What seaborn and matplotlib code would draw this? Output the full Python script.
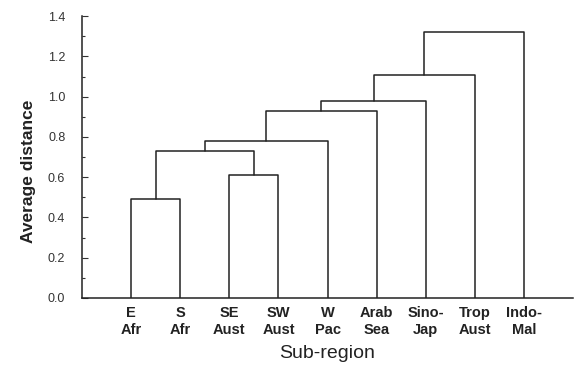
import numpy as np
import pandas as pd
import matplotlib
matplotlib.use("Agg")
import matplotlib.pyplot as plt
import matplotlib.ticker as mticker
import seaborn as sns

# leaf labels (left to right) and the agglomeration steps
leaves = ["E\nAfr", "S\nAfr", "SE\nAust", "SW\nAust", "W\nPac",
          "Arab\nSea", "Sino-\nJap", "Trop\nAust", "Indo-\nMal"]
# children indices: 0-8 are leaves, 9+ are clusters created in order below
merge_left = [0, 2, 9, 11, 12, 13, 14, 15]
merge_right = [1, 3, 10, 4, 5, 6, 7, 8]
merge_height = [0.49, 0.61, 0.73, 0.78, 0.93, 0.98, 1.11, 1.32]

# build the U-shaped link segments
pos_x = {i: i + 1.0 for i in range(len(leaves))}
pos_y = {i: 0.0 for i in range(len(leaves))}
rows = []
for k, (a, b, h) in enumerate(zip(merge_left, merge_right, merge_height)):
    xs = [pos_x[a], pos_x[a], pos_x[b], pos_x[b]]
    ys = [pos_y[a], h, h, pos_y[b]]
    for order, (x, y) in enumerate(zip(xs, ys)):
        rows.append({"link": k, "order": order, "x": x, "y": y})
    new = len(leaves) + k
    pos_x[new] = (pos_x[a] + pos_x[b]) / 2
    pos_y[new] = h
links = pd.DataFrame(rows)

sns.set_style("ticks")
plt.rcParams["font.family"] = ["Liberation Sans", "DejaVu Sans"]

fig = plt.figure(figsize=(5.75, 3.66), dpi=100)
ax = fig.add_axes([0.1426, 0.1858, 0.854, 0.770])

sns.lineplot(data=links, x="x", y="y", units="link", estimator=None,
             sort=False, color="#222222", linewidth=1.1, ax=ax, legend=False)

ax.set_xlim(0, 10)
ax.set_ylim(0, 1.4)
ax.yaxis.set_major_locator(mticker.MultipleLocator(0.2))
ax.yaxis.set_minor_locator(mticker.MultipleLocator(0.1))
ax.yaxis.set_major_formatter(mticker.FormatStrFormatter("%.1f"))
ax.tick_params(axis="y", which="major", direction="in", length=4, width=0.8,
               pad=12, labelsize=9, colors="#333333")
ax.tick_params(axis="y", which="minor", direction="in", length=2.5, width=0.8,
               colors="#333333")

ax.set_xticks(np.arange(1, len(leaves) + 1))
ax.set_xticklabels(leaves, fontsize=10.5, fontweight="bold", linespacing=1.2)
ax.tick_params(axis="x", length=0, pad=6, colors="#222222")

sns.despine(ax=ax)
for s in ["left", "bottom"]:
    ax.spines[s].set_linewidth(1.1)
    ax.spines[s].set_color("#222222")

ax.set_xlabel("Sub-region", fontsize=14, color="#222222", labelpad=6)
ax.set_ylabel("Average distance", fontsize=12.5, fontweight="bold",
              color="#222222")
ax.yaxis.set_label_coords(-0.093, 0.45)

fig.savefig("out.png", dpi=100)
